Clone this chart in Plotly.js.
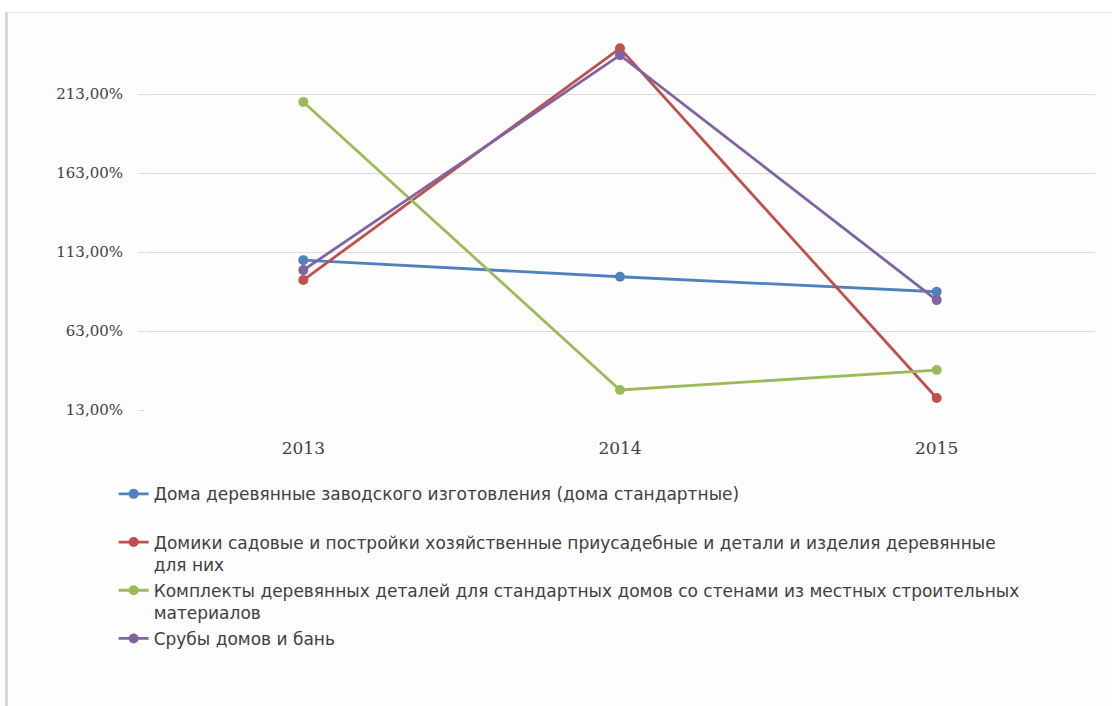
<!DOCTYPE html>
<html>
<head>
<meta charset="utf-8">
<script src="https://cdn.plot.ly/plotly-3.0.1.min.js"></script>
<style>
  html, body { margin: 0; padding: 0; background: #ffffff; }
  #wrap { position: relative; width: 1112px; height: 706px; overflow: hidden; }
  #frame {
    position: absolute; left: 5px; top: 12px; right: 0; bottom: -4px;
    border-left: 3px solid #d6d6d6; border-top: 1px solid #e6e6e6;
    background: #fdfdfd;
  }
  #chart { position: absolute; left: 0; top: 0; width: 1112px; height: 706px; }
</style>
</head>
<body>
<div id="wrap">
  <div id="frame"></div>
  <div id="chart"></div>
</div>
<script>
// Years on the category axis
const years = ['2013', '2014', '2015'];

// Growth index per product group, percent
const houses    = [107.9, 97.4, 87.9];
const gardens   = [95.3, 242.1, 20.6];
const kits      = [208.1, 25.7, 38.3];
const logCabins = [101.6, 237.7, 82.6];

// Series names as shown in the legend (each entry kept two lines tall)
const names = [
  'Дома деревянные заводского изготовления (дома стандартные)<br> ',
  'Домики садовые и постройки хозяйственные приусадебные и детали и изделия деревянные<br>для них',
  'Комплекты деревянных деталей для стандартных домов со стенами из местных строительных<br>материалов',
  'Срубы домов и бань'
];

// Value axis ticks
const tickValues = [13, 63, 113, 163, 213];
const tickLabels = ['13,00%', '63,00%', '113,00%', '163,00%', '213,00%'];

const colors = ['#4f81bd', '#c0504d', '#9bbb59', '#8064a2'];
const series = [houses, gardens, kits, logCabins];

const traces = series.map((vals, i) => ({
  type: 'scatter',
  mode: 'lines+markers',
  x: years,
  y: vals,
  name: names[i],
  legendgroup: 'g' + i,
  line: { color: colors[i], width: 2.8 },
  marker: { color: colors[i], size: 10, symbol: 'circle' }
}));

const layout = {
  width: 1112,
  height: 706,
  paper_bgcolor: 'rgba(0,0,0,0)',
  plot_bgcolor: 'rgba(0,0,0,0)',
  margin: { l: 145, r: 17, t: 20, b: 296 },
  showlegend: true,
  legend: {
    orientation: 'v',
    x: -0.033,
    xanchor: 'left',
    y: -0.17,
    yanchor: 'top',
    valign: 'top',
    tracegroupgap: 1,
    font: { family: 'DejaVu Sans', size: 17, color: '#404040' },
    bgcolor: 'rgba(0,0,0,0)'
  },
  xaxis: {
    type: 'category',
    range: [-0.5, 2.5],
    showgrid: false,
    zeroline: false,
    showline: false,
    ticks: '',
    ticklabelstandoff: 26,
    tickfont: { family: 'DejaVu Serif', size: 17, color: '#404040' }
  },
  yaxis: {
    range: [13, 260],
    tickvals: tickValues,
    ticktext: tickLabels,
    showgrid: true,
    gridcolor: '#dcdcdc',
    gridwidth: 1,
    zeroline: false,
    showline: false,
    ticks: 'outside',
    ticklen: 6,
    tickcolor: '#dcdcdc',
    ticklabelstandoff: 12,
    tickfont: { family: 'DejaVu Serif', size: 15, color: '#404040' }
  }
};

Plotly.newPlot('chart', traces, layout, { displayModeBar: false, staticPlot: true });
</script>
</body>
</html>
